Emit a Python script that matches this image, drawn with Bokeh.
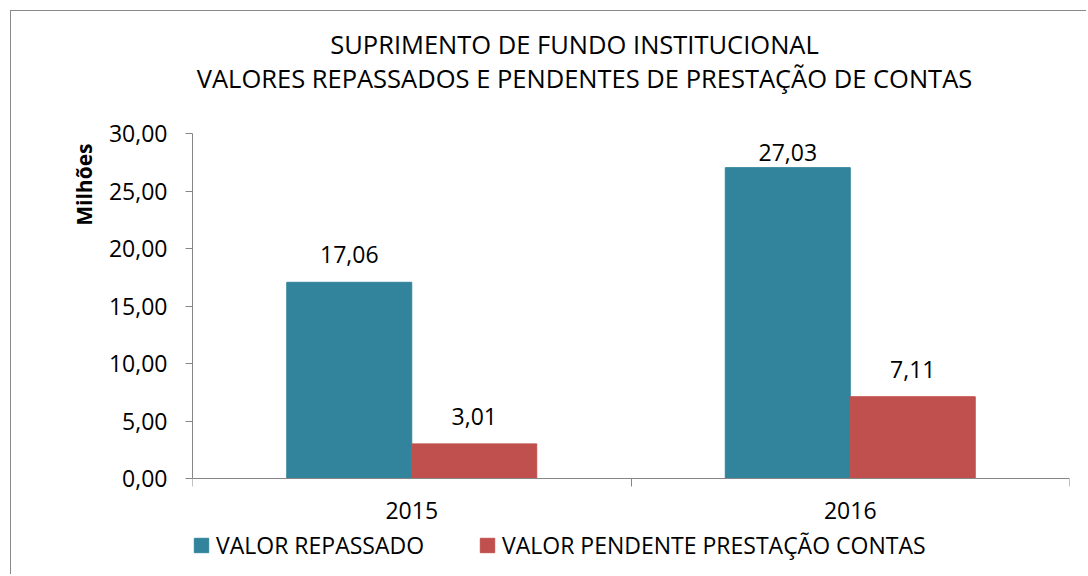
from bokeh.plotting import figure
from bokeh.models import (Range1d, FixedTicker, CustomJSTickFormatter, ColumnDataSource,
                          Legend, LegendItem, LabelSet, Label, Title)
from bokeh.core.properties import value
from bokeh.transform import dodge
from bokeh.embed import file_html
from bokeh.resources import INLINE

years = ["2015", "2016"]
valor_repassado = [17.06, 27.03]
valor_pendente = [3.01, 7.11]
series_names = ["VALOR REPASSADO", "VALOR PENDENTE PRESTAÇÃO CONTAS"]
y_ticks = [0, 5, 10, 15, 20, 25, 30]
y_axis_title = "Milhões"
title_lines = ["SUPRIMENTO DE FUNDO INSTITUCIONAL",
               "VALORES REPASSADOS E PENDENTES DE PRESTAÇÃO DE CONTAS"]

FONT = "Open Sans"
BLUE = "#31849B"
RED = "#C0504D"
AXIS = "#868686"

# layout: frame spans the full height so that titles and legend are not clipped
PX_PER_UNIT = 11.5
ZERO_Y = 467          # pixel (from content top) of value 0
H = 564
MB_BOTTOM = 10
y_top = ZERO_Y / PX_PER_UNIT
y_bot = -(H - MB_BOTTOM - ZERO_Y) / PX_PER_UNIT

# data labels sit above the bars but are kept inside the plot area (as in Excel)
lab_gap = 19 / PX_PER_UNIT
lab_max = y_ticks[-1] - 27 / PX_PER_UNIT
lab_pos = lambda vals: [min(v + lab_gap, lab_max) for v in vals]

xc = [i + 0.5 for i in range(len(years))]
fmt = lambda v: ("%.2f" % v).replace(".", ",")
src = ColumnDataSource(dict(
    x=xc, zero=[0] * len(years), year=years, rep=valor_repassado, pen=valor_pendente,
    rep_pos=lab_pos(valor_repassado), pen_pos=lab_pos(valor_pendente),
    rep_lbl=[fmt(v) for v in valor_repassado],
    pen_lbl=[fmt(v) for v in valor_pendente],
))

p = figure(width=1076, height=H, output_backend="svg", toolbar_location=None,
           x_range=Range1d(0, len(years)), y_range=Range1d(y_bot, y_top),
           min_border_left=181, min_border_right=18, min_border_top=0,
           min_border_bottom=MB_BOTTOM)
p.styles = {"border": "1px solid #888888", "border-bottom": "none", "border-right": "none",
            "margin": "10px 0 0 10px"}
p.outline_line_color = None
p.xgrid.grid_line_color = None
p.ygrid.grid_line_color = None

bw = 0.285
r1 = p.vbar(x=dodge("x", -bw / 2, range=p.x_range), top="rep", width=bw, source=src,
            fill_color=BLUE, line_color=BLUE)
r2 = p.vbar(x=dodge("x", bw / 2, range=p.x_range), top="pen", width=bw, source=src,
            fill_color=RED, line_color=RED)

for pos, lbl, off in (("rep_pos", "rep_lbl", -bw / 2), ("pen_pos", "pen_lbl", bw / 2)):
    p.add_layout(LabelSet(x=dodge("x", off, range=p.x_range), y=pos, text=lbl, source=src,
                          text_align="center", text_baseline="bottom",
                          text_font=value(FONT), text_font_size=value("23px"),
                          text_color="black"))

# y axis
p.yaxis.bounds = (y_ticks[0], y_ticks[-1])
p.yaxis.ticker = FixedTicker(ticks=y_ticks)
p.yaxis.formatter = CustomJSTickFormatter(code="return tick.toFixed(2).replace('.', ',');")
p.yaxis.axis_line_color = AXIS
p.yaxis.major_tick_line_color = AXIS
p.yaxis.major_tick_out = 7
p.yaxis.major_tick_in = 0
p.yaxis.minor_tick_line_color = None
p.yaxis.major_label_standoff = 18
p.yaxis.major_label_text_font = FONT
p.yaxis.major_label_text_font_size = "23px"
p.yaxis.major_label_text_color = "black"

# y axis title near the top (vertical title in the left panel)
p.add_layout(Title(text=y_axis_title, align="right", offset=132, standoff=16,
                   text_font=FONT, text_font_size="21px", text_font_style="bold",
                   text_color="black"), "left")

# x axis drawn at value 0, with boundary ticks between the categories
p.xaxis.fixed_location = 0
p.xaxis.ticker = FixedTicker(ticks=[], minor_ticks=list(range(len(years) + 1)))
p.xaxis.axis_line_color = AXIS
p.xaxis.major_tick_line_color = None
p.xaxis.major_tick_out = 0
p.xaxis.major_tick_in = 0
p.xaxis.minor_tick_line_color = AXIS
p.xaxis.minor_tick_out = 8
p.xaxis.minor_tick_in = 0
p.xaxis.major_label_standoff = 0
p.xaxis.major_label_text_font_size = "0px"

# category labels under the axis
p.add_layout(LabelSet(x="x", y="zero", text="year", source=src, y_offset=-32,
                      text_align="center", text_baseline="middle",
                      text_font=value(FONT), text_font_size=value("23px"),
                      text_color="black"))

# two-line title
for txt, xs, ypix in ((title_lines[0], 382, 32), (title_lines[1], 392, 66)):
    p.add_layout(Label(x=xs, y=(ZERO_Y - ypix) / PX_PER_UNIT, x_units="screen",
                       text=txt, text_align="center", text_baseline="middle",
                       text_font=FONT, text_font_size="25.5px", text_color="black"))

legend = Legend(items=[LegendItem(label=series_names[0], renderers=[r1]),
                       LegendItem(label=series_names[1], renderers=[r2])],
                orientation="horizontal", location=(0, 4),
                glyph_width=18, glyph_height=18, label_standoff=6, spacing=54,
                padding=0, margin=0, border_line_color=None, background_fill_alpha=0,
                label_text_font=FONT, label_text_font_size="23px", label_text_color="black")
p.add_layout(legend, "center")

open("out.html", "w").write(file_html(p, INLINE))
